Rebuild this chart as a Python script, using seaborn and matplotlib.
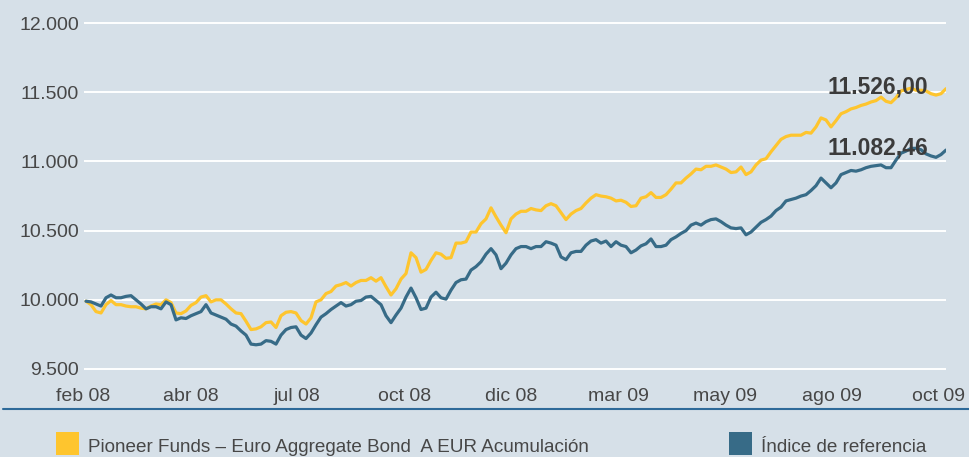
import numpy as np
import pandas as pd
import matplotlib
matplotlib.use("Agg")
import matplotlib.pyplot as plt
from matplotlib.lines import Line2D
from matplotlib.patches import Rectangle
from matplotlib import font_manager
import seaborn as sns

# Weekly closes, base 10.000
fondo = [
    9990, 9965, 9915, 9905, 9965, 9995, 9965, 9965, 9955, 9950,
    9950, 9940, 9935, 9955, 9970, 9965, 10000, 9980, 9905, 9900,
    9920, 9960, 9980, 10020, 10030, 9985, 10000, 10000, 9970, 9935,
    9905, 9900, 9845, 9785, 9790, 9805, 9835, 9840, 9800, 9885,
    9910, 9915, 9905, 9850, 9825, 9870, 9985, 10000, 10045, 10060,
    10100, 10110, 10125, 10100, 10125, 10140, 10140, 10160, 10135, 10160,
    10095, 10035, 10080, 10150, 10190, 10340, 10305, 10200, 10220, 10285,
    10340, 10330, 10300, 10305, 10410, 10410, 10420, 10490, 10490, 10550,
    10585, 10665, 10600, 10540, 10485, 10585, 10620, 10640, 10640, 10660,
    10650, 10645, 10680, 10695, 10680, 10630, 10580, 10620, 10645, 10660,
    10700, 10735, 10760, 10750, 10745, 10735, 10715, 10720, 10705, 10675,
    10680, 10735, 10745, 10775, 10740, 10740, 10760, 10800, 10845, 10845,
    10880, 10910, 10945, 10940, 10965, 10965, 10975, 10960, 10945, 10920,
    10925, 10960, 10905, 10925, 10975, 11010, 11020, 11070, 11115, 11160,
    11180, 11190, 11190, 11190, 11210, 11205, 11250, 11315, 11300, 11250,
    11295, 11345, 11360, 11380, 11390, 11405, 11415, 11430, 11440, 11465,
    11435, 11425, 11460, 11510, 11520, 11530, 11515, 11515, 11510, 11490,
    11480, 11490, 11526.00,
]

indice = [
    9990, 9985, 9970, 9955, 10015, 10035, 10015, 10015, 10025, 10030,
    10000, 9970, 9935, 9950, 9950, 9935, 9985, 9965, 9855, 9870,
    9865, 9885, 9900, 9915, 9965, 9905, 9890, 9875, 9860, 9825,
    9810, 9775, 9745, 9680, 9675, 9680, 9705, 9700, 9680, 9745,
    9785, 9800, 9805, 9745, 9720, 9760, 9820, 9875, 9900, 9930,
    9955, 9980, 9955, 9965, 9990, 9995, 10020, 10025, 9995, 9965,
    9885, 9835, 9890, 9940, 10020, 10085, 10015, 9930, 9940, 10020,
    10055, 10015, 10005, 10070, 10125, 10145, 10150, 10215, 10240, 10275,
    10330, 10370, 10325, 10225, 10265, 10325, 10370, 10385, 10385, 10370,
    10385, 10385, 10420, 10410, 10395, 10310, 10290, 10340, 10350, 10350,
    10395, 10425, 10435, 10410, 10425, 10385, 10420, 10395, 10385, 10340,
    10360, 10390, 10405, 10440, 10385, 10385, 10395, 10435, 10455, 10480,
    10500, 10540, 10555, 10540, 10565, 10580, 10585, 10565, 10540, 10520,
    10515, 10520, 10470, 10490, 10525, 10560, 10580, 10605, 10645, 10670,
    10715, 10725, 10735, 10750, 10760, 10790, 10825, 10880, 10845, 10810,
    10845, 10905, 10920, 10935, 10930, 10940, 10955, 10965, 10970, 10975,
    10955, 10955, 11010, 11060, 11075, 11095, 11095, 11085, 11055, 11040,
    11030, 11050, 11082.46,
]

meses = ["feb 08", "abr 08", "jul 08", "oct 08", "dic 08",
         "mar 09", "may 09", "ago 09", "oct 09"]
yticks = [9500, 10000, 10500, 11000, 11500, 12000]

nombres = ["Pioneer Funds \u2013 Euro Aggregate Bond  A EUR Acumulaci\u00f3n",
           "\u00cdndice de referencia"]
colores = ["#fec52e", "#376b87"]
FONDO_BG = "#d6e0e8"
TEXTO = "#474747"


def es_num(v, dec=0):
    s = f"{v:,.{dec}f}"
    return s.replace(",", "#").replace(".", ",").replace("#", ".")


sns.set_theme(style="white", rc={"axes.facecolor": FONDO_BG,
                                 "figure.facecolor": FONDO_BG})
plt.rcParams["font.family"] = ["Liberation Sans", "DejaVu Sans"]

disponibles = {f.name for f in font_manager.fontManager.ttflist}
if "Liberation Sans Narrow" in disponibles:
    fam_leyenda, tam_leyenda = ["Liberation Sans Narrow"], 15.8
else:
    fam_leyenda, tam_leyenda = ["Liberation Sans"], 13.6

n = len(fondo)
df = pd.DataFrame({
    "semana": list(range(n)) * 2,
    "valor": fondo + indice,
    "serie": [nombres[0]] * n + [nombres[1]] * n,
})

W, H = 969, 457
fig = plt.figure(figsize=(W / 100, H / 100), dpi=100, facecolor=FONDO_BG)
x0 = -0.5
ymin, ymax = 9440, 12100
left_px, right_px = 83.5, 946.0
top_px, bottom_px = 9.3, 377.3
ax = fig.add_axes([left_px / W, 1 - bottom_px / H,
                   (right_px - left_px) / W, (bottom_px - top_px) / H])

sns.lineplot(data=df, x="semana", y="valor", hue="serie",
             hue_order=nombres, palette=colores, linewidth=2.3,
             legend=False, ax=ax)

ax.set_xlim(x0, n - 1)
ax.set_ylim(ymin, ymax)
ax.set_yticks(yticks)
ax.set_yticklabels([es_num(v) for v in yticks])
ax.set_xticks(np.linspace(x0, 170.6, len(meses)))
ax.set_xticklabels(meses)
ax.set_xlabel("")
ax.set_ylabel("")
ax.yaxis.grid(True, color="white", linewidth=1.4)
ax.xaxis.grid(False)
ax.set_axisbelow(True)
for s in ax.spines.values():
    s.set_visible(False)
ax.tick_params(axis="y", length=0, pad=3.2, labelsize=14, labelcolor=TEXTO)
ax.tick_params(axis="x", length=0, pad=8, labelsize=14, labelcolor=TEXTO)

# closing values at the end of each line
for serie in (fondo, indice):
    ax.annotate(es_num(serie[-1], 2), xy=(n - 1, serie[-1]),
                xytext=(-13, 1.5), textcoords="offset points",
                ha="right", va="center", fontsize=16.5, fontweight="bold",
                color="#3b3b3b")

# separator between plot and legend
fig.add_artist(Line2D([3 / W, 1], [1 - 409 / H] * 2, transform=fig.transFigure,
                      color="#2e6a99", linewidth=1.5))

# legend: colour squares and labels
lado = 23
for nombre, color, xpx in zip(nombres, colores, (56, 729)):
    fig.add_artist(Rectangle((xpx / W, 1 - 455 / H), lado / W, lado / H,
                             transform=fig.transFigure, facecolor=color,
                             edgecolor="none"))
    fig.text((xpx + lado + 9) / W, 1 - 451.5 / H, nombre, ha="left",
             va="baseline", family=fam_leyenda, fontsize=tam_leyenda,
             color=TEXTO)

fig.savefig("out.png", dpi=100, facecolor=FONDO_BG)
